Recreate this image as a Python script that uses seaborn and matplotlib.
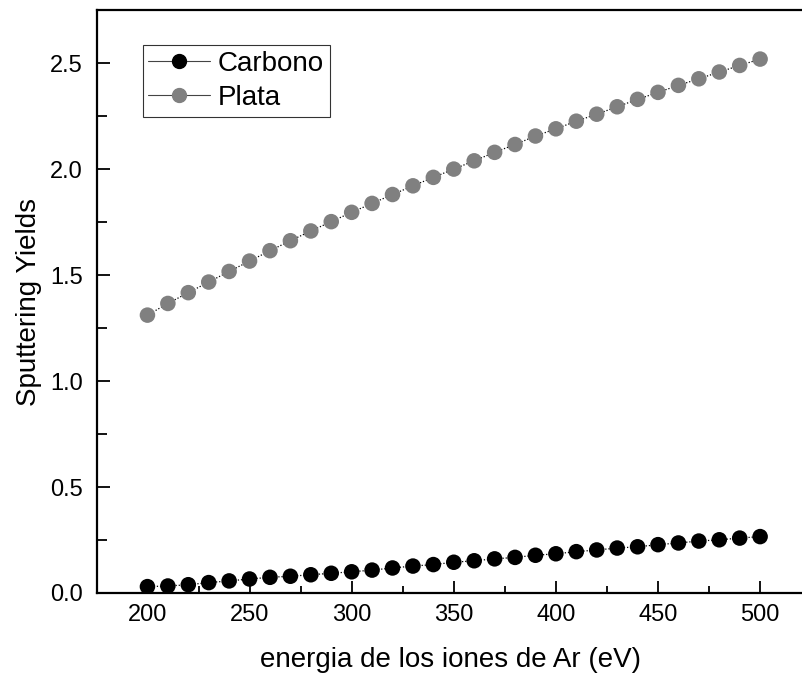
import numpy as np
import pandas as pd
import matplotlib
matplotlib.use("Agg")
import matplotlib.pyplot as plt
import seaborn as sns
from matplotlib.lines import Line2D
from matplotlib.ticker import MultipleLocator

# energia de los iones de Ar (eV)
energia = [200, 210, 220, 230, 240, 250, 260, 270, 280, 290, 300,
           310, 320, 330, 340, 350, 360, 370, 380, 390, 400,
           410, 420, 430, 440, 450, 460, 470, 480, 490, 500]

# sputtering yields
carbono = [0.030, 0.033, 0.039, 0.049, 0.057, 0.066, 0.074, 0.079, 0.086, 0.093, 0.100,
           0.108, 0.118, 0.127, 0.134, 0.145, 0.152, 0.161, 0.168, 0.178, 0.185,
           0.195, 0.203, 0.212, 0.218, 0.228, 0.236, 0.245, 0.251, 0.259, 0.266]
plata = [1.311, 1.366, 1.417, 1.467, 1.517, 1.566, 1.615, 1.662, 1.708, 1.752, 1.796,
         1.838, 1.880, 1.921, 1.961, 2.000, 2.039, 2.079, 2.116, 2.156, 2.190,
         2.226, 2.259, 2.294, 2.329, 2.362, 2.395, 2.426, 2.458, 2.489, 2.519]

series_names = ["Carbono", "Plata"]
colors = {"Carbono": "#000000", "Plata": "#808080"}

df = pd.DataFrame({
    "energia": energia * 2,
    "yield": carbono + plata,
    "serie": [series_names[0]] * len(energia) + [series_names[1]] * len(energia),
})

sns.set_style("ticks")
plt.rcParams["font.family"] = ["Liberation Sans", "DejaVu Sans"]
plt.rcParams["text.color"] = "black"
plt.rcParams["axes.labelcolor"] = "black"

fig = plt.figure(figsize=(8.03, 6.75), dpi=100)
ax = fig.add_axes([0.1208, 0.1215, 0.8792, 0.8635])

# thin dotted connecting lines
for name in series_names:
    sub = df[df["serie"] == name]
    sns.lineplot(data=sub, x="energia", y="yield", ax=ax, color="black",
                 linestyle=(0, (1, 1.5)), linewidth=0.9, legend=False)

# round markers
sns.scatterplot(data=df, x="energia", y="yield", hue="serie", palette=colors,
                s=125, edgecolor="none", ax=ax, legend=False, zorder=3)

ax.set_xlim(175.3, 521)
ax.set_ylim(0, 2.75)
ax.xaxis.set_major_locator(MultipleLocator(50))
ax.xaxis.set_minor_locator(MultipleLocator(25))
ax.yaxis.set_major_locator(MultipleLocator(0.5))
ax.yaxis.set_minor_locator(MultipleLocator(0.25))
ax.tick_params(which="major", direction="in", length=9, width=1.3,
               labelsize=17, colors="black")
ax.tick_params(axis="x", which="major", pad=8)
ax.tick_params(axis="y", which="major", pad=10)
ax.tick_params(which="minor", direction="in", length=5, width=1.3, colors="black")
ax.tick_params(axis="y", which="minor", length=7)
ax.set_yticks([0.0, 0.5, 1.0, 1.5, 2.0, 2.5])
ax.set_yticklabels(["0.0", "0.5", "1.0", "1.5", "2.0", "2.5"])

for side in ["left", "bottom", "top"]:
    ax.spines[side].set_linewidth(1.6)
    ax.spines[side].set_color("black")
ax.spines["right"].set_visible(False)

ax.set_xlabel("energia de los iones de Ar (eV)", fontsize=20, labelpad=15)
ax.set_ylabel("Sputtering Yields", fontsize=20, labelpad=6)

handles = [Line2D([0], [0], color="#444444", linewidth=0.8, marker="o",
                  markersize=10, markerfacecolor=colors[n], markeredgecolor=colors[n])
           for n in series_names]
leg = ax.legend(handles, series_names, loc="upper left", bbox_to_anchor=(0.065, 0.94),
                fontsize=20, frameon=True, fancybox=False, handlelength=2.2,
                handletextpad=0.3, borderpad=0.2, labelspacing=0.3, borderaxespad=0)
leg.get_frame().set_edgecolor("black")
leg.get_frame().set_linewidth(0.8)

fig.savefig("out.png", dpi=100)
